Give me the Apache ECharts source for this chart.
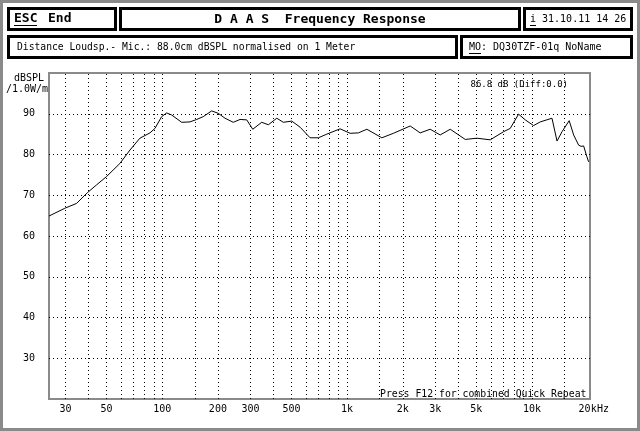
<!DOCTYPE html>
<html>
<head>
<meta charset="utf-8">
<script src="https://cdn.jsdelivr.net/npm/echarts@6/dist/echarts.min.js"></script>
<style>
html,body{margin:0;padding:0;background:#fff;}
#chart{width:640px;height:431px;}
</style>
</head>
<body>
<div id="chart"></div>
<script>
// Frequency (Hz) and SPL (dB)
var freqs = [24.4, 29.7, 34.4, 39.3, 44, 50, 59, 66.9, 75.7, 85.8, 91.3, 99.3, 105.6, 112.4, 127.4, 141.2, 153.6, 166.7, 185.1, 201, 218.5, 242.3, 263.5, 286.4, 308.7, 345.2, 374.9, 416.4, 452, 501.9, 556.8, 630.5, 699.3, 776.5, 916.6, 1038, 1151, 1279, 1541, 1781, 2194, 2485, 2814, 3188, 3612, 4355, 5039, 5946, 7020, 7628, 8461, 9199, 10200, 11090, 12830, 13660, 14540, 15900, 16800, 17880, 18420, 19030, 19800, 20250];
var spl = [64.9, 66.8, 68.0, 70.6, 72.5, 74.6, 77.8, 81.1, 84.0, 85.3, 86.4, 89.3, 90.2, 89.7, 87.9, 88.0, 88.6, 89.3, 90.7, 90.1, 88.9, 87.9, 88.6, 88.5, 86.2, 87.9, 87.3, 88.9, 87.9, 88.2, 86.7, 84.1, 84.1, 85.0, 86.3, 85.2, 85.3, 86.2, 84.1, 85.2, 87.0, 85.3, 86.2, 84.8, 86.2, 83.7, 84.0, 83.6, 85.6, 86.4, 89.9, 88.5, 87.1, 88.0, 88.9, 83.3, 85.6, 88.3, 84.8, 82.3, 82.0, 82.1, 79.5, 78.2];
var xTickValues = [30, 50, 100, 200, 300, 500, 1000, 2000, 3000, 5000, 10000, 20000];
var xTickLabels = ['30', '50', '100', '200', '300', '500', '1k', '2k', '3k', '5k', '10k', '20k'];
var xGridValues = [30, 40, 50, 60, 70, 80, 90, 100, 150, 200, 300, 400, 500, 600, 700, 800, 900, 1000, 1500, 2000, 3000, 4000, 5000, 6000, 7000, 8000, 9000, 10000, 15000];
var yGridValues = [30, 40, 50, 60, 70, 80, 90];

var MONO = '"DejaVu Sans Mono", "Liberation Mono", monospace';
var chart = echarts.init(document.getElementById('chart'), null, {renderer: 'canvas'});

var gridLines = [];
xGridValues.forEach(function (v) { gridLines.push({xAxis: v}); });
yGridValues.forEach(function (v) { gridLines.push({yAxis: v}); });

var data = freqs.map(function (f, i) { return [f, spl[i]]; });

function txt(x, y, text, size, bold, align) {
  return {type: 'text', x: x, y: y, silent: true, z: 10,
    style: {text: text, fill: '#000', font: (bold ? 'bold ' : '') + size + 'px ' + MONO,
      textAlign: align || 'left', textVerticalAlign: 'middle'}};
}
function box(x1, y1, x2, y2) {
  return {type: 'rect', silent: true, z: 5,
    shape: {x: x1 + 1.5, y: y1 + 1.5, width: x2 - x1 - 3, height: y2 - y1 - 3},
    style: {fill: '#fff', stroke: '#000', lineWidth: 3}};
}
function uline(x1, x2, y) {
  return {type: 'line', silent: true, z: 10, shape: {x1: x1, y1: y, x2: x2, y2: y}, style: {stroke: '#000', lineWidth: 1}};
}

var option = {
  backgroundColor: '#fff',
  animation: false,
  grid: {left: 49, right: 50, top: 73, bottom: 32, show: true, borderColor: '#8a8a8a', borderWidth: 2, backgroundColor: 'transparent'},
  xAxis: {
    type: 'log', logBase: 10, min: 24.4, max: 20600,
    axisLine: {show: false}, axisTick: {show: false}, splitLine: {show: false}, minorSplitLine: {show: false},
    axisLabel: {
      customValues: xTickValues,
      color: '#000', fontSize: 10, fontFamily: MONO, margin: 5,
      formatter: function (v) {
        var i = xTickValues.indexOf(Math.round(v));
        return i >= 0 ? xTickLabels[i] : '';
      }
    }
  },
  yAxis: {
    type: 'value', min: 20, max: 100, interval: 10,
    axisLine: {show: false}, axisTick: {show: false}, splitLine: {show: false},
    axisLabel: {color: '#000', fontSize: 10, fontFamily: MONO, margin: 14,
      formatter: function (v) { return (v <= 20 || v >= 100) ? '' : String(v); }}
  },
  series: [
    {
      type: 'line', data: [], z: 1, silent: true,
      markLine: {silent: true, symbol: ['none', 'none'], animation: false,
        label: {show: false},
        lineStyle: {color: '#000', width: 1, type: [1, 3]},
        emphasis: {disabled: true},
        data: gridLines}
    },
    {
      type: 'line', data: data, z: 3, showSymbol: false, silent: true,
      lineStyle: {color: '#000', width: 1}
    }
  ],
  graphic: {elements: [
    {type: 'rect', silent: true, z: 1, shape: {x: 1.5, y: 1.5, width: 637, height: 428},
      style: {fill: null, stroke: '#8a8a8a', lineWidth: 3}},
    box(7, 7, 117, 31),
    box(119, 7, 521, 31),
    box(523, 7, 633, 31),
    box(7, 35, 458, 59),
    box(460, 35, 633, 59),
    txt(14, 19, 'ESC', 13, true),
    txt(48, 19, 'End', 13, true),
    uline(14, 37, 25.5),
    txt(320, 19.5, 'D A A S  Frequency Response', 13, true, 'center'),
    txt(530, 19, 'i 31.10.11 14 26', 10, false),
    uline(530, 536, 25.5),
    txt(17, 47, 'Distance Loudsp.- Mic.: 88.0cm dBSPL normalised on 1 Meter', 9.7, false),
    txt(469, 47, 'MO: DQ30TZF-01q NoName', 10, false),
    uline(469, 481, 53.5),
    txt(29, 78, 'dBSPL', 10, false, 'center'),
    txt(27, 89, '/1.0W/m', 10, false, 'center'),
    txt(568, 85, '86.8 dB (Diff:0.0)', 9, false, 'right'),
    txt(380, 394, 'Press F12 for combined Quick Repeat', 9.8, false),
    txt(597, 409, 'Hz', 10, false)
  ]}
};
chart.setOption(option);
</script>
</body>
</html>
